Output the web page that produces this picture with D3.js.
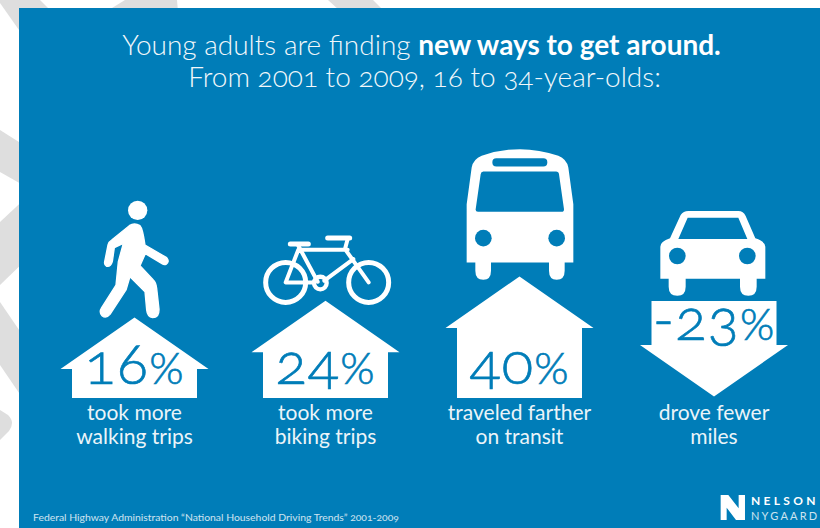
<!DOCTYPE html>
<html>
<head>
<meta charset="utf-8">
<script src="https://cdnjs.cloudflare.com/ajax/libs/d3/7.8.5/d3.min.js"></script>
<style>
  html, body { margin: 0; padding: 0; background: #fff; }
  svg { display: block; }
  text { font-family: Lato, "Open Sans", sans-serif; font-feature-settings: "onum" 1, "lnum" 0; }
</style>
</head>
<body>
<svg id="chart" width="820" height="528"></svg>
<script>
// Change in travel habits of 16 to 34-year-olds, 2001 to 2009
const categories = ["walking", "biking", "transit", "driving"];
const changes = [16, 24, 40, -23];
const changeLabels = ["16", "24", "40", "-23"];
const captions = [
  ["took more", "walking trips"],
  ["took more", "biking trips"],
  ["traveled farther", "on transit"],
  ["drove fewer", "miles"]
];
const titleLight = "Young adults are finding ";
const titleBold = "new ways to get around.";
const subtitle = "From 2001 to 2009, 16 to 34-year-olds:";
const source = "Federal Highway Administration \u201CNational Household Driving Trends\u201D 2001-2009";

const blue = "#007DB8";
const svg = d3.select("#chart");

// Pale chevrons showing around the edge of the card
const chevrons = [
  "M0 0L40 0L60 20L19 30L0 3Z",
  "M112 8L125 0L177 0L178 12L112 12Z",
  "M328 0L373 0L383 10L339 10Z",
  "M0 130L30 149L30 189L0 172Z",
  "M0 222L30 194L30 256L0 285Z",
  "M0 302L30 346L30 409L0 365Z",
  "M0 410L8 415Q12 419 12 423Q12 427 9 431L0 440Z"
];
svg.selectAll("path.chevron").data(chevrons).join("path")
  .attr("class", "chevron").attr("d", d => d).attr("fill", "#DEDEDE");

svg.append("rect").attr("x", 19).attr("y", 8).attr("width", 801).attr("height", 520).attr("fill", blue);

// Title
const title = svg.append("text").attr("x", 421.5).attr("y", 55)
  .attr("text-anchor", "middle").attr("fill", "#fff").attr("font-size", 28);
title.append("tspan").attr("font-weight", 300).attr("opacity", 0.95).text(titleLight);
title.append("tspan").attr("font-weight", 700).text(titleBold);
svg.append("text").attr("x", 424.5).attr("y", 87)
  .attr("text-anchor", "middle").attr("fill", "#fff").attr("font-size", 28)
  .attr("font-weight", 300).attr("opacity", 0.95).text(subtitle);

// Scales: column centres, and arrow shaft length from the size of the change
const xCentre = d3.scaleOrdinal(categories, [134.5, 325.5, 519.5, 714]);
const shaft = d3.scaleLinear().domain([0, 16, 23.5, 40]).range([0, 29, 45, 70]);

const upBase = 398;      // foot of the upward arrows
const downTop = 301;     // top of the downward arrow
const headH = 51.5, headW = 74, shaftW = 62.5;

const arrow = d3.line();
function arrowPoints(v, c) {
  const s = shaft(Math.abs(v));
  if (v >= 0) {
    const shoulder = upBase - s;
    return [[c - shaftW, upBase], [c - shaftW, shoulder], [c - headW, shoulder],
            [c, shoulder - headH], [c + headW, shoulder], [c + shaftW, shoulder], [c + shaftW, upBase]];
  }
  const shoulder = downTop + s;
  return [[c - shaftW, downTop], [c - shaftW, shoulder], [c - headW, shoulder],
          [c, shoulder + headH], [c + headW, shoulder], [c + shaftW, shoulder], [c + shaftW, downTop]];
}

const columns = svg.selectAll("g.column")
  .data(categories.map((name, i) => ({ name, value: changes[i], label: changeLabels[i], caption: captions[i] })))
  .join("g").attr("class", "column");

columns.append("path")
  .attr("d", d => arrow(arrowPoints(d.value, xCentre(d.name))) + "Z")
  .attr("fill", "#fff");

const figures = columns.append("text")
  .attr("x", d => xCentre(d.name))
  .attr("y", d => d.value >= 0 ? 384 : downTop + 39)
  .attr("text-anchor", "middle").attr("fill", blue)
  .attr("stroke", blue).attr("stroke-width", 0.7)
  .attr("letter-spacing", 1)
  .attr("font-size", 58).attr("font-weight", 300);
figures.append("tspan").text(d => d.label);
figures.append("tspan").attr("font-size", 44).text("%");

columns.selectAll("text.caption").data(d => d.caption.map(t => ({ t, c: xCentre(d.name) })))
  .join("text").attr("class", "caption")
  .attr("x", d => d.c).attr("y", (d, i) => 420 + i * 24)
  .attr("text-anchor", "middle").attr("fill", "#fff").attr("font-size", 21)
  .attr("font-weight", 400).attr("opacity", 0.92)
  .text(d => d.t);

// Transport pictograms, each standing on its arrow
const icons = {
  walking: g => {
    g.append("circle").attr("cx", 143).attr("cy", 46).attr("r", 29);
    g.append("path").attr("stroke", "#fff").attr("stroke-width", 4).attr("stroke-linejoin", "round").attr("d",
      "M118 92Q133 82 150 92Q158 100 165 150L230 188Q240 200 228 208Q222 210 216 206L166 176L150 212L190 255Q198 262 200 280L207 342Q208 368 188 368Q172 366 170 345L165 290L120 245L108 285L60 358Q48 372 36 362Q26 352 35 338L78 270L85 200L100 145L73 158L67 200Q62 216 50 214Q42 210 44 200L54 150Q56 140 65 135Z");
  },
  biking: g => {
    const line = (d, w) => g.append("path").attr("d", d).attr("fill", "none").attr("stroke", "#fff")
      .attr("stroke-width", w).attr("stroke-linecap", "round").attr("stroke-linejoin", "round");
    [92, 341].forEach(cx => g.append("circle").attr("cx", cx).attr("cy", 160).attr("r", 60)
      .attr("fill", "none").attr("stroke", "#fff").attr("stroke-width", 15));
    g.append("circle").attr("cx", 196).attr("cy", 162).attr("r", 19)
      .attr("fill", "none").attr("stroke", "#fff").attr("stroke-width", 13);
    line("M106 45L160 45", 15);
    line("M218 27L284 27", 15);
    line("M130 50L188 158M130 62L92 160L178 160", 12);
    line("M135 62L278 62M278 30L270 60L341 160M295 90L208 155", 12);
  },
  transit: g => {
    g.append("path").attr("fill-rule", "evenodd").attr("d",
      "M170 395L170 220L185 110Q190 85 215 75Q330 35 445 75Q470 85 475 110L490 220L490 395L464 395L464 420Q464 447 440 447Q417 447 417 420L417 395L243 395L243 420Q243 447 220 447Q196 447 196 420L196 395Z" +
      "M259 82L400 82Q412 82 412 94Q412 107 400 107L259 107Q247 107 247 94Q247 82 259 82Z" +
      "M220 122L438 122Q446 122 447 130L462 235Q462 243 455 243L204 243Q196 243 197 235L212 130Q213 122 220 122Z");
    [220, 440].forEach(cx => g.append("circle").attr("cx", cx).attr("cy", 322).attr("r", 25).attr("fill", blue));
  },
  driving: g => {
    g.append("path").attr("fill-rule", "evenodd").attr("d",
      "M751 446L751 350Q751 335 780 325L812 255Q820 243 835 243L985 243Q1000 243 1007 258L1036 325Q1066 335 1066 350L1066 446L1040 446L1040 470Q1040 497 1015 497Q990 497 990 470L990 446L827 446L827 470Q827 497 802 497Q776 497 776 470L776 446Z" +
      "M833 263L985 263L1012 327L805 327Z");
    [802, 1012].forEach(cx => g.append("circle").attr("cx", cx).attr("cy", 378).attr("r", 25).attr("fill", blue));
  }
};
// Offset of each drawing from the column centre and the arrow's top point
const iconOffset = { walking: [-44.5, -122.5], biking: [-70.5, -71.7], transit: [-109.5, -145.7], driving: [-304, -171] };

columns.append("g")
  .attr("fill", "#fff")
  .attr("transform", d => {
    const pts = arrowPoints(d.value, xCentre(d.name));
    const top = d.value >= 0 ? pts[3][1] : downTop;
    const [dx, dy] = iconOffset[d.name];
    return `translate(${xCentre(d.name) + dx},${top + dy}) scale(${1 / 3})`;
  })
  .each(function (d) { icons[d.name](d3.select(this)); });

// Source line
svg.append("text").attr("x", 33).attr("y", 521).attr("fill", "#fff").attr("opacity", 0.8)
  .attr("font-size", 10.4).text(source);

// Logo
svg.append("path").attr("fill", "#fff")
  .attr("transform", "translate(620,440) scale(0.3333)")
  .attr("d", "M302 165L325 165L356 205L356 165L375 165L375 240L348 240L320 203L320 240L302 240Z");
svg.append("text").attr("x", 751).attr("y", 505).attr("fill", "#fff").attr("font-size", 12)
  .attr("font-weight", 700).attr("letter-spacing", 3.3).text("NELSON");
svg.append("text").attr("x", 751).attr("y", 520).attr("fill", "#fff").attr("opacity", 0.8).attr("font-size", 11)
  .attr("letter-spacing", 2.2).text("NYGAARD");
</script>
</body>
</html>
